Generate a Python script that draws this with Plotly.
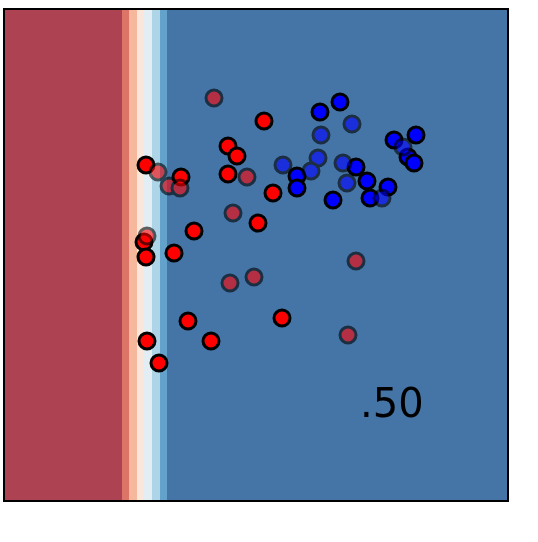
import plotly.graph_objects as go

# decision regions: vertical bands (x edges) and their colours
band_edges = [0.0, 1.17, 1.24, 1.32, 1.39, 1.47, 1.55, 1.62, 5.02]
band_colors = ['#ad4253', '#dc7467', '#f5b89c', '#fbe6db', '#e3edf4',
               '#aed4e7', '#62a2cb', '#4575a7']

# training points
train_red_x = [1.41, 1.76, 2.23, 2.32, 2.59, 2.23, 2.68, 1.89, 2.53, 1.69, 1.39,
               1.41, 1.83, 1.42, 2.06, 1.54, 2.77]
train_red_y = [3.35, 3.23, 3.54, 3.44, 3.79, 3.26, 3.07, 2.69, 2.77, 2.47, 2.58,
               2.43, 1.79, 1.59, 1.59, 1.37, 1.82]
train_blue_x = [3.15, 3.35, 3.89, 4.11, 4.03, 4.09, 3.51, 2.92, 2.92, 3.62,
                3.83, 3.65, 3.28]
train_blue_y = [3.88, 3.98, 3.60, 3.65, 3.43, 3.37, 3.33, 3.24, 3.12, 3.19,
                3.13, 3.02, 3.00]

# test points
test_red_x = [1.53, 1.64, 1.75, 2.42, 2.28, 1.42, 2.25, 2.49, 2.09, 3.51, 3.43]
test_red_y = [3.28, 3.14, 3.12, 3.23, 2.87, 2.64, 2.17, 2.23, 4.02, 2.39, 1.65]
test_blue_x = [3.47, 3.16, 2.78, 3.13, 3.06, 3.38, 3.42, 3.77, 3.98]
test_blue_y = [3.76, 3.65, 3.35, 3.42, 3.29, 3.37, 3.17, 3.02, 3.53]

score_text = '.50'

fig = go.Figure()

n = len(band_colors)
scale = []
for i, c in enumerate(band_colors):
    scale.append([i / n, c])
    scale.append([(i + 1) / n, c])

fig.add_trace(go.Heatmap(
    x=band_edges, y=[0, 4.9],
    z=[list(range(n))],
    zmin=-0.5, zmax=n - 0.5,
    colorscale=scale, showscale=False, hoverinfo='skip',
))

marker_line = dict(color='black', width=3)
fig.add_trace(go.Scatter(x=train_red_x, y=train_red_y, mode='markers',
                         marker=dict(color='#ff0000', size=16, line=marker_line)))
fig.add_trace(go.Scatter(x=train_blue_x, y=train_blue_y, mode='markers',
                         marker=dict(color='#0000ff', size=16, line=marker_line)))
fig.add_trace(go.Scatter(x=test_red_x, y=test_red_y, mode='markers', opacity=0.6,
                         marker=dict(color='#ff0000', size=16, line=marker_line)))
fig.add_trace(go.Scatter(x=test_blue_x, y=test_blue_y, mode='markers', opacity=0.6,
                         marker=dict(color='#0000ff', size=16, line=marker_line)))

fig.add_annotation(x=4.21, y=0.97, text=score_text, showarrow=False,
                   xanchor='right', yanchor='middle',
                   font=dict(family='DejaVu Sans', size=40, color='black'))

axis = dict(showgrid=False, zeroline=False, showticklabels=False, ticks='',
            showline=True, linecolor='black', linewidth=2, mirror=True)
fig.update_layout(
    width=538, height=542,
    margin=dict(l=5, r=31, t=10, b=42),
    paper_bgcolor='white', plot_bgcolor='white',
    showlegend=False,
    xaxis=dict(range=[0, 5.02], **axis),
    yaxis=dict(range=[0, 4.9], **axis),
)

# the page's default 8px body margin would shift the whole figure
fig.write_html("out.html", config={'displayModeBar': False},
               post_script="document.body.style.margin='0px';")
